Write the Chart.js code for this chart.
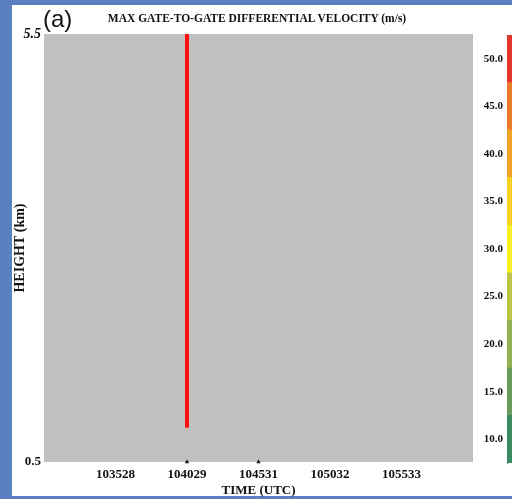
<!DOCTYPE html>
<html>
<head>
<meta charset="utf-8">
<script src="https://cdn.jsdelivr.net/npm/chart.js@4/dist/chart.umd.min.js"></script>
<style>
  body { margin: 0; width: 512px; height: 499px; overflow: hidden; background: #5b80c1; position: relative; }
  #panel { position: absolute; left: 12px; top: 5px; width: 500px; height: 491px; background: #ffffff; }
  #main { position: absolute; left: 0; top: 0; }
  #cbar { position: absolute; left: 470px; top: 0; }
  #title { position: absolute; left: 0; width: 514px; top: 12px; text-align: center;
    font: bold 11.5px "Liberation Serif", serif; color: #111; white-space: nowrap; }
  #panelLabel { position: absolute; left: 43px; top: 7px; font: 24px "Liberation Sans", sans-serif; line-height: 24px; color: #111; }
</style>
</head>
<body>
<div id="panel"></div>
<canvas id="main" width="512" height="499"></canvas>
<canvas id="cbar" width="60" height="499"></canvas>
<div id="title">MAX GATE-TO-GATE DIFFERENTIAL VELOCITY (m/s)</div>
<div id="panelLabel">(a)</div>
<script>
// time axis labels (HHMMSS, UTC)
var timeLabels = ["103528", "104029", "104531", "105032", "105533"];
var heightTicks = [0.5, 5.5];

// the one red column of max differential velocity
var redTimeIndex = [1, 1];
var redHeights = [0.9, 5.5];

// small markers along the bottom
var markTimeIndex = [1, 2];

// colour bar levels (m/s)
var levels = [10, 15, 20, 25, 30, 35, 40, 45, 50];
var levelColors = ["#3b8a62", "#6b9b5a", "#92b152", "#bcc545", "#f7f022",
                   "#f7d222", "#f1a424", "#ec7b2b", "#e7342b"];

var serif = "'Liberation Serif', 'Times New Roman', serif";

var grayBg = {
    id: 'grayBg',
    beforeDraw: function(chart) {
        var a = chart.chartArea;
        var ctx = chart.ctx;
        ctx.save();
        ctx.fillStyle = '#c0c0c0';
        ctx.fillRect(a.left, a.top, a.right - a.left, a.bottom - a.top);
        ctx.restore();
    }
};

var redPts = [];
for (var i = 0; i < redHeights.length; i++) {
    redPts.push({x: redTimeIndex[i], y: redHeights[i]});
}
var markPts = [];
for (var j = 0; j < markTimeIndex.length; j++) {
    markPts.push({x: markTimeIndex[j], y: heightTicks[0]});
}

new Chart(document.getElementById("main"), {
    type: 'scatter',
    data: {
        datasets: [
            {
                data: redPts,
                showLine: true,
                borderColor: '#ff1010',
                borderWidth: 4,
                pointRadius: 0
            },
            {
                data: markPts,
                pointStyle: 'triangle',
                pointRadius: 2.5,
                backgroundColor: '#111',
                borderColor: '#111',
                borderWidth: 0,
                clip: false
            }
        ]
    },
    options: {
        responsive: false,
        animation: false,
        layout: { padding: { left: 12, top: 34, right: 39, bottom: 0 } },
        plugins: { legend: { display: false }, tooltip: { enabled: false } },
        scales: {
            x: {
                type: 'linear',
                min: -1,
                max: 5,
                grid: { display: false, drawTicks: false },
                border: { display: false },
                afterBuildTicks: function(s) {
                    s.ticks = timeLabels.map(function(t, k) { return {value: k}; });
                },
                afterFit: function(s) { s.height = 37; },
                ticks: {
                    padding: 5,
                    color: '#111',
                    maxRotation: 0,
                    font: { family: serif, size: 13, weight: 'bold' },
                    callback: function(v) { return timeLabels[v]; }
                },
                title: {
                    display: true,
                    text: 'TIME (UTC)',
                    color: '#111',
                    padding: { top: 0, bottom: 1 },
                    font: { family: serif, size: 13, weight: 'bold' }
                }
            },
            y: {
                min: 0.5,
                max: 5.5,
                grid: { display: false, drawTicks: false },
                border: { display: false },
                afterBuildTicks: function(s) {
                    s.ticks = heightTicks.map(function(v) { return {value: v}; });
                },
                afterFit: function(s) { s.width = 32; },
                ticks: {
                    padding: 3,
                    color: '#111',
                    font: function(c) {
                        if (c.tick && c.tick.value > 5) {
                            return { family: serif, size: 14, weight: 'bold', style: 'italic' };
                        }
                        return { family: serif, size: 13, weight: 'bold' };
                    },
                    callback: function(v) { return v.toFixed(1); }
                },
                title: {
                    display: true,
                    text: 'HEIGHT (km)',
                    color: '#111',
                    padding: { top: 0, bottom: 0 },
                    font: { family: serif, size: 14, weight: 'bold' }
                }
            }
        }
    },
    plugins: [grayBg]
});

// colour bar
var cbarSets = levels.map(function(lv, k) {
    return {
        data: [[lv - 2.5, lv + 2.5]],
        backgroundColor: levelColors[k],
        borderWidth: 0,
        grouped: false,
        barPercentage: 1,
        categoryPercentage: 1
    };
});

new Chart(document.getElementById("cbar"), {
    type: 'bar',
    data: { labels: [''], datasets: cbarSets },
    options: {
        responsive: false,
        animation: false,
        layout: { padding: { left: 0, top: 35, right: 0, bottom: 36 } },
        plugins: { legend: { display: false }, tooltip: { enabled: false } },
        scales: {
            x: { display: false },
            y: {
                min: levels[0] - 2.5,
                max: levels[levels.length - 1] + 2.5,
                grid: { display: false, drawTicks: false },
                border: { display: true, color: '#666', width: 1 },
                afterBuildTicks: function(s) {
                    s.ticks = levels.map(function(v) { return {value: v}; });
                },
                afterFit: function(s) { s.width = 37; },
                ticks: {
                    padding: 4,
                    color: '#111',
                    font: { family: serif, size: 11, weight: 'bold' },
                    callback: function(v) { return v.toFixed(1); }
                }
            }
        }
    }
});
</script>
</body>
</html>
